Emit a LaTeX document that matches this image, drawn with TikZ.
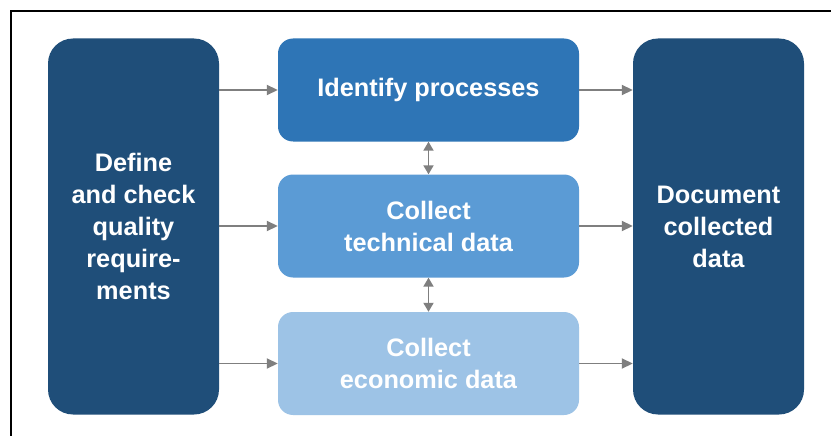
\documentclass[tikz,border=0pt]{standalone}
\usepackage{fontspec}
\setmainfont{Liberation Sans}
\usetikzlibrary{arrows.meta}
\definecolor{cdark}{HTML}{1F4E79}
\definecolor{ctop}{HTML}{2E75B6}
\definecolor{cmid}{HTML}{5B9BD5}
\definecolor{cbot}{HTML}{9DC3E6}
\definecolor{carrow}{HTML}{7F7F7F}
\tikzset{
  sidebox/.style={rectangle, rounded corners=25pt, fill=cdark, minimum width=171pt, minimum height=376pt, inner sep=0pt, text=white, align=center, font=\fontsize{25.3}{32}\selectfont\bfseries},
  midbox/.style={rectangle, rounded corners=15pt, minimum width=301pt, minimum height=103pt, inner sep=0pt, text=white, align=center, font=\fontsize{25.3}{32}\selectfont\bfseries},
  flow/.style={draw=carrow, line width=1.8pt, -{Triangle[length=11pt,width=10pt]}},
  both/.style={draw=carrow, line width=1.8pt, {Triangle[length=9pt,width=10pt]}-{Triangle[length=9pt,width=10pt]}}
}
\begin{document}
\begin{tikzpicture}[x=1pt,y=-1pt]
\useasboundingbox (0,0) rectangle (831,436);
\fill[white] (0,0) rectangle (831,436);
\draw[line width=2pt, black] (11,436) -- (11,11) -- (831,11);
\node[sidebox] (L) at (133.5,226.5) {Define\\and check\\quality\\require-\\ments};
\node[sidebox] (R) at (718.5,226.5) {Document\\collected\\data};
\node[midbox, fill=ctop] (T) at (428.5,90) {Identify processes};
\node[midbox, fill=cmid] (M) at (428.5,226) {Collect\\technical data};
\node[midbox, fill=cbot] (B) at (428.5,363.5) {Collect\\economic data};
\draw[flow] (L.east |- T) -- (T.west);
\draw[flow] (L.east |- M) -- (M.west);
\draw[flow] (L.east |- B) -- (B.west);
\draw[flow] (T.east) -- (R.west |- T);
\draw[flow] (M.east) -- (R.west |- M);
\draw[flow] (B.east) -- (R.west |- B);
\draw[both] (T.south) -- (M.north);
\draw[both] (M.south) -- (B.north);
\end{tikzpicture}
\end{document}
